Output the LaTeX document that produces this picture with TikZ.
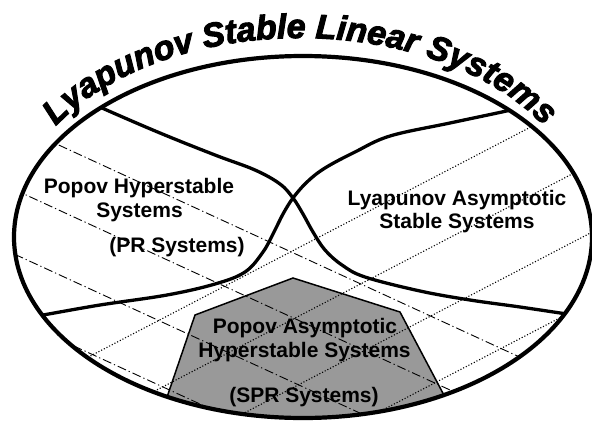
\documentclass[tikz,border=0pt]{standalone}
\usepackage{fontspec}
\setmainfont{Liberation Sans}
\newfontfamily\titlefont[FakeBold=3]{Liberation Sans Bold Italic}
\usetikzlibrary{decorations.text}
\definecolor{sprgray}{RGB}{153,153,153}
\tikzset{
  outline/.style={line width=4.2pt},
  boundary/.style={line width=3.3pt},
  polyedge/.style={line width=1.5pt, line join=miter},
  ddline/.style={line width=0.9pt, dash pattern=on 9pt off 3pt on 1.2pt off 3pt},
  dotline/.style={line width=1.1pt, dash pattern=on 1.1pt off 1.9pt},
  lbl/.style={font=\fontsize{21}{24}\selectfont\bfseries, inner sep=0pt, anchor=base},
}
\begin{document}
\begin{tikzpicture}[x=1pt,y=-1pt]
\useasboundingbox (0,0) rectangle (592,421);
\coordinate (C) at (303,237);
% polygon vertices
\coordinate (p1) at (155.8,430);
\coordinate (p2) at (195,315);
\coordinate (p3) at (293,278);
\coordinate (p4) at (400,312);
\coordinate (p5) at (462.4,430);
\begin{scope}
  \clip (C) ellipse [x radius=289, y radius=181];
  \fill[sprgray] (p1) -- (p2) -- (p3) -- (p4) -- (p5) -- cycle;
  \draw[polyedge] (p1) -- (p2) -- (p3) -- (p4) -- (p5);
  % dash-dot hatching below curve A
  \begin{scope}
    \clip plot[smooth,tension=0.6] coordinates {(0,55) (90,102) (102,108) (160,133) (215,155) (255,170) (280,184) (293,198) (303,214) (313,232) (325,250) (342,265) (365,277) (420,291) (470,300) (520,307) (580,316) (600,319)} -- (600,430) -- (0,430) -- cycle;
    \foreach \c in {53.5,118,183,247.5,312,376.5}
      \draw[ddline] (0,\c) -- (600,{\c+276});
  \end{scope}
  % dotted hatching below curve B
  \begin{scope}
    \clip plot[smooth,tension=0.6] coordinates {(600,95) (525,106) (511,110) (450,123) (390,136) (355,152) (325,168) (307,182) (293,198) (283,214) (274,232) (263,252) (245,272) (215,284) (167,295) (100,305) (43,315) (30,317) (0,322)} -- (0,430) -- (600,430) -- cycle;
    \foreach \c in {334,403,471.5,540,609,678}
      \draw[dotline] (0,\c) -- (600,{\c-312});
  \end{scope}
  % boundary curves
  \draw[boundary] plot[smooth,tension=0.6] coordinates {(90,102) (102,108) (160,133) (215,155) (255,170) (280,184) (293,198) (303,214) (313,232) (325,250) (342,265) (365,277) (420,291) (470,300) (520,307) (580,316)};
  \draw[boundary] plot[smooth,tension=0.6] coordinates {(525,106) (511,110) (450,123) (390,136) (355,152) (325,168) (307,182) (293,198) (283,214) (274,232) (263,252) (245,272) (215,284) (167,295) (100,305) (43,315) (30,317)};
\end{scope}
\draw[outline] (C) ellipse [x radius=289, y radius=181];
% labels
\node[lbl] (ph1) at (139,193) {Popov Hyperstable};
\node[lbl] (ph2) at (139.5,217) {Systems};
\node[lbl] (pr) at (177,252) {(PR Systems)};
\node[lbl] (la1) at (457,205) {Lyapunov Asymptotic};
\node[lbl] (la2) at (457,228) {Stable Systems};
\node[lbl] (pa1) at (305,333) {Popov Asymptotic};
\node[lbl] (pa2) at (304.5,357) {Hyperstable Systems};
\node[lbl] (spr) at (304,402) {(SPR Systems)};
% title
\path[decorate, decoration={text along path, text align=center,
  text={|\titlefont\fontsize{34}{34}\selectfont|Lyapunov Stable Linear Systems}}]
  ([shift={(195:285 and 182)}]300,220) arc[start angle=195, end angle=345, x radius=285, y radius=182];
\end{tikzpicture}
\end{document}
